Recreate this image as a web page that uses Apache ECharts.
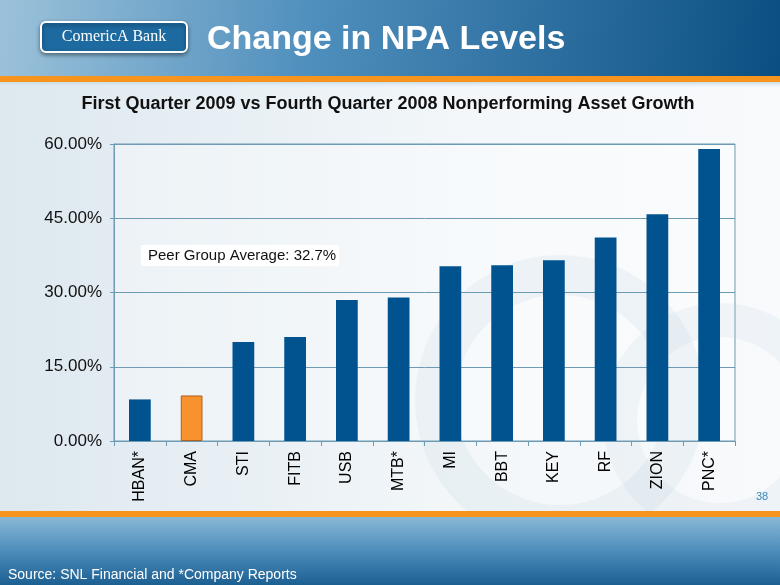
<!DOCTYPE html>
<html><head><meta charset="utf-8">
<script src="https://cdn.jsdelivr.net/npm/echarts@6/dist/echarts.min.js"></script>
<style>html,body{margin:0;padding:0;}#c{width:780px;height:585px;}</style>
</head><body><div id="c"></div>
<script>
const categories = ['HBAN*','CMA','STI','FITB','USB','MTB*','MI','BBT','KEY','RF','ZION','PNC*'];
const values = [8.4, 9.2, 20.0, 21.0, 28.5, 29.0, 35.3, 35.5, 36.5, 41.1, 45.8, 59.0];
const highlight = 'CMA';
const yTicks = [0, 15, 30, 45, 60];
const title = 'Change in NPA Levels';
const subtitle = 'First Quarter 2009 vs Fourth Quarter 2008 Nonperforming Asset Growth';
const note = 'Peer Group Average: 32.7%';
const source = 'Source: SNL Financial and *Company Reports';
const pageNo = '38';

const chart = echarts.init(document.getElementById('c'), null, {renderer:'canvas'});
const font = 'Liberation Sans, Arial, sans-serif';
const option = {
  animation:false,
  backgroundColor: {type:'linear',x:0,y:0,x2:1,y2:0,colorStops:[{offset:0,color:'#dde8ef'},{offset:0.6,color:'#f3f7fa'},{offset:1,color:'#f8fafc'}]},
  graphic:[
    {type:'circle',shape:{cx:560,cy:400,r:125},style:{fill:'none',stroke:'rgba(170,195,215,0.14)',lineWidth:40},z:0,silent:true},
    {type:'circle',shape:{cx:720,cy:420,r:100},style:{fill:'none',stroke:'rgba(170,195,215,0.12)',lineWidth:34},z:0,silent:true},
    {type:'rect',shape:{x:0,y:0,width:780,height:77},style:{fill:{type:'linear',x:0,y:0,x2:1,y2:1,colorStops:[{offset:0,color:'#9cc2da'},{offset:0.4,color:'#4f8fbd'},{offset:1,color:'#0b4f82'}]}},z:1},
    {type:'rect',shape:{x:0,y:76,width:780,height:6},style:{fill:'#f7941d'},z:2},
    {type:'rect',shape:{x:0,y:82,width:780,height:6},style:{fill:{type:'linear',x:0,y:0,x2:0,y2:1,colorStops:[{offset:0,color:'#c9dbe7'},{offset:1,color:'rgba(230,238,244,0)'}]}},z:2},
    {type:'rect',shape:{x:41,y:22,width:146,height:30,r:5},style:{fill:'#1d6aa0',stroke:'#ffffff',lineWidth:2,shadowBlur:4,shadowColor:'rgba(0,0,0,0.4)',shadowOffsetY:2},z:3},
    {type:'text',x:114,y:37,style:{text:'ComericA Bank',fill:'#ffffff',font:'16px "Liberation Serif", "DejaVu Serif", serif',align:'center',verticalAlign:'middle'},z:4},
    {type:'text',x:207,y:40,style:{text:title,fill:'#ffffff',font:'bold 34px '+font,align:'left',verticalAlign:'middle'},z:4},
    {type:'text',x:388,y:104,style:{text:subtitle,fill:'#111111',font:'bold 18px '+font,align:'center',verticalAlign:'middle'},z:4},
    {type:'rect',shape:{x:0,y:511,width:780,height:6},style:{fill:'#f7941d'},z:2},
    {type:'rect',shape:{x:0,y:517,width:780,height:68},style:{fill:{type:'linear',x:0,y:0,x2:0,y2:1,colorStops:[{offset:0,color:'#8ab8d6'},{offset:0.5,color:'#4c8dbb'},{offset:1,color:'#1c5f91'}]}},z:1},
    {type:'text',x:8,y:575,style:{text:source,fill:'#ffffff',font:'14px '+font,align:'left',verticalAlign:'middle'},z:4},
    {type:'text',x:762,y:497,style:{text:pageNo,fill:'#3d86b8',font:'11px '+font,align:'center',verticalAlign:'middle'},z:4},
    {type:'rect',shape:{x:141,y:245,width:198,height:21},style:{fill:'#ffffff'},z:5},
    {type:'text',x:148,y:256,style:{text:note,fill:'#111111',font:'15px '+font,align:'left',verticalAlign:'middle'},z:6}
  ],
  grid:{left:114,right:45,top:144,bottom:144,show:true,borderColor:'#6d9bb3',borderWidth:1,backgroundColor:'rgba(255,255,255,0.35)'},
  xAxis:{type:'category',data:categories,
    axisLine:{lineStyle:{color:'#6d9bb3'}},
    axisTick:{show:true,alignWithLabel:false,length:5,lineStyle:{color:'#6d9bb3'}},
    axisLabel:{rotate:90,color:'#000',fontSize:16,fontFamily:font,margin:10}},
  yAxis:{type:'value',min:0,max:60,interval:15,
    axisLine:{show:true,lineStyle:{color:'#6d9bb3'}},
    axisTick:{show:true,length:4,lineStyle:{color:'#6d9bb3'}},
    splitLine:{lineStyle:{color:'#6d9bb3',width:1}},
    axisLabel:{color:'#111',fontSize:17,fontFamily:font,margin:12,formatter:v=>yTicks.includes(v)?v.toFixed(2)+'%':''}},
  series:[{type:'bar',barWidth:'42%',z:3,
    data:values.map((v,i)=>categories[i]===highlight?{value:v,itemStyle:{color:'#f7922e',borderColor:'#b3601a',borderWidth:1}}:{value:v,itemStyle:{color:'#00538f'}})}]
};
chart.setOption(option);
</script></body></html>
